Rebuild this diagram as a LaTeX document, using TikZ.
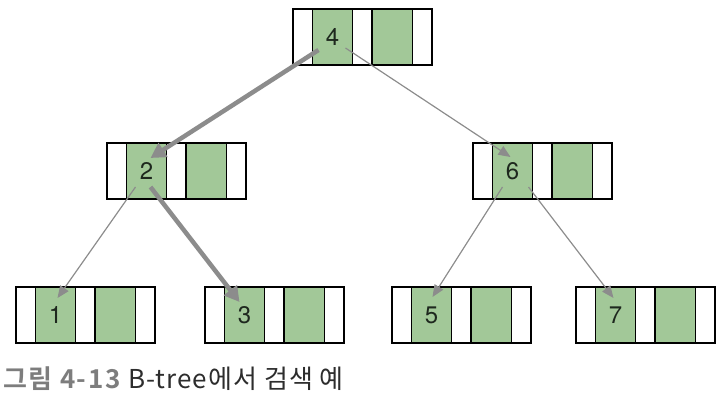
\documentclass[tikz,border=0pt]{standalone}
\usepackage{fontspec}
\setmainfont{TeX Gyre Heros}
\newfontfamily\krfont[LetterSpace=4]{Noto Sans CJK KR}
\newfontfamily\krbold[LetterSpace=6]{Noto Sans CJK KR Bold}
\usetikzlibrary{arrows.meta,calc}
\definecolor{cellgreen}{RGB}{162,200,152}
\definecolor{arrgray}{RGB}{140,140,140}
\definecolor{capgray}{RGB}{125,125,125}
\definecolor{captext}{RGB}{45,45,45}
\definecolor{digit}{RGB}{30,40,30}
\tikzset{
  cellbase/.style={draw=black, line width=1.2pt, inner sep=0pt, outer sep=0pt, anchor=north west, minimum height=56pt},
  wcell/.style={cellbase, fill=white, minimum width=19.5pt},
  gcell/.style={cellbase, fill=cellgreen, minimum width=40pt},
  bnode/.pic={
    \node[wcell] (-a) at (0,0) {};
    \node[gcell, font=\fontsize{24}{24}\selectfont, text=digit] (-k) at (19.5,0) {#1};
    \node[wcell] (-b) at (59.5,0) {};
    \node[gcell] (-c) at (79.5,0) {};
    \node[wcell] (-d) at (119.5,0) {};
  },
  thickarr/.style={draw=arrgray, line width=4.5pt, -{Triangle[length=15pt,width=16pt]}},
  thinarr/.style={draw=arrgray, line width=1.2pt, -{Triangle[length=12pt,width=10pt]}},
}
\begin{document}
\begin{tikzpicture}[x=1pt,y=-1pt]
\useasboundingbox (0,0) rectangle (725,406);
\pic (n4) at (293,9) {bnode=4};
\pic (n2) at (107,143) {bnode=2};
\pic (n6) at (473,143) {bnode=6};
\pic (n1) at (16,287) {bnode=1};
\pic (n3) at (205,287) {bnode=3};
\pic (n5) at (392,287) {bnode=5};
\pic (n7) at (576,287) {bnode=7};
\draw[thickarr] ($(n4-k.center)+(-14,13)$) -- ($(n2-k.center)+(4,-13)$);
\draw[thinarr] ($(n4-k.center)+(13,11)$) -- ($(n6-k.center)+(-2,-14)$);
\draw[thinarr] ($(n2-k.center)+(-11,16)$) -- ($(n1-k.center)+(2,-17)$);
\draw[thickarr] ($(n2-k.center)+(4,16)$) -- ($(n3-k.center)+(-5,-13)$);
\draw[thinarr] ($(n6-k.center)+(-10,16)$) -- ($(n5-k.center)+(1,-18)$);
\draw[thinarr] ($(n6-k.center)+(16,16)$) -- ($(n7-k.center)+(-2,-17)$);
\node[anchor=base west, inner sep=0pt, font=\fontsize{26}{26}\selectfont] (cap) at (3,388)
  {{\krbold\color{capgray}그림 4-13}\hspace{8pt}{\krfont\color{captext}B-tree에서 검색 예}};
\end{tikzpicture}
\end{document}
